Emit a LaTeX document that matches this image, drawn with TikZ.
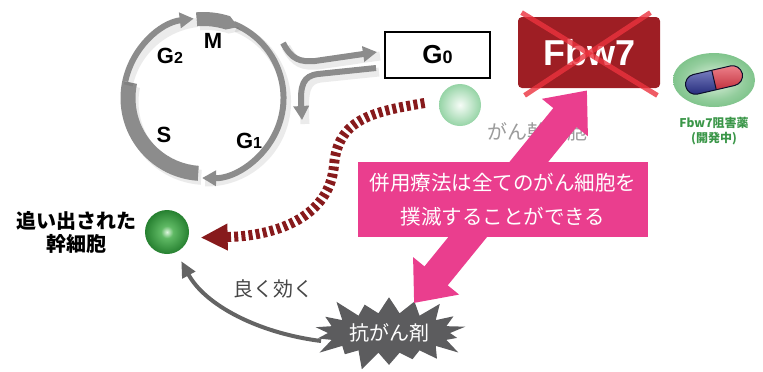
\documentclass[tikz,border=0pt]{standalone}
\usepackage{fontspec}
\setmainfont{Liberation Sans}
\newfontfamily\jpfont{Noto Sans CJK JP}
\usepackage{tikz}
\usetikzlibrary{arrows.meta,positioning,shapes.geometric,shapes.symbols}

\definecolor{cycgray}  {RGB}{140,140,140}
\definecolor{burstgray}{RGB}{ 92, 92, 94}
\definecolor{effgray}  {RGB}{100,100,100}
\definecolor{lblgray}  {RGB}{ 70, 70, 70}
\definecolor{cscgray}  {RGB}{155,155,155}
\definecolor{fbwred}   {RGB}{158, 30, 36}
\definecolor{xred}     {RGB}{235, 50, 62}
\definecolor{hotpink}  {RGB}{234, 62,142}
\definecolor{exitred}  {RGB}{135, 26, 28}
\definecolor{stemhi}   {RGB}{222,246,222}
\definecolor{stemmid}  {RGB}{ 95,185,100}
\definecolor{stemgreen}{RGB}{ 38,128, 48}
\definecolor{cschi}    {RGB}{246,252,247}
\definecolor{cscgreen} {RGB}{150,212,166}
\definecolor{drughi}   {RGB}{226,243,226}
\definecolor{druggreen}{RGB}{128,196,140}
\definecolor{drugtext} {RGB}{ 58,150, 72}
\definecolor{pillblue} {RGB}{ 45, 55,170}
\definecolor{pillred}  {RGB}{228, 35, 52}

\pgfdeclareradialshading{stemshade}{\pgfpoint{0bp}{0bp}}{%
  color(0bp)=(stemhi); color(7bp)=(stemmid); color(25bp)=(stemgreen);
  color(50bp)=(stemgreen)}
\pgfdeclareradialshading{cscshade}{\pgfpoint{0bp}{0bp}}{%
  color(0bp)=(cschi); color(25bp)=(cscgreen); color(50bp)=(cscgreen)}
\pgfdeclareradialshading{drugshade}{\pgfpoint{0bp}{0bp}}{%
  color(0bp)=(drughi); color(18bp)=(druggreen!80!drughi);
  color(25bp)=(druggreen); color(50bp)=(druggreen)}

\newcommand{\ph}[3][8]{#2{\fontsize{#1}{#1}\selectfont#3}}

\tikzset{
  cycshade/.style={preaction={draw=black,opacity=0.08,line width=4.5pt,arrows=-,
                   transform canvas={shift={(1.5pt,-2pt)}}}},
  cyc/.style={draw=cycgray,line width=3pt,cycshade},
  cycarr/.style={cyc,-{Triangle[length=7pt,width=7.5pt]}},
  cycblk/.style={fill=cycgray,preaction={fill=black,opacity=0.08,
                 transform canvas={shift={(1.5pt,-2pt)}}}},
  phase/.style={font=\bfseries\fontsize{11}{11}\selectfont,inner sep=0pt},
  gbox/.style={draw=black,line width=1pt,fill=white,
               minimum width=52.5pt,minimum height=23pt,inner sep=0pt,
               font=\bfseries\fontsize{13}{13}\selectfont},
  fbw/.style={fill=fbwred,rounded corners=2pt,
              minimum width=71pt,minimum height=35.5pt,text=white,
              font=\bfseries\fontsize{18}{18}\selectfont},
  xmark/.style={draw=xred,line width=2.5pt,opacity=0.8},
  cellpale/.style={circle,inner sep=0pt,minimum size=21pt,shade,shading=cscshade},
  cellgreen/.style={circle,inner sep=0pt,minimum size=22pt,shade,shading=stemshade},
  drug/.style={ellipse,inner sep=0pt,minimum width=41pt,minimum height=27pt,
               shade,shading=drugshade},
  pilledge/.style={draw=black!75!pillblue,line width=0.5pt},
  lbl/.style={font=\jpfont\fontsize{10}{11.5}\selectfont,inner sep=0pt,align=center},
  druglbl/.style={font=\bfseries\jpfont\fontsize{6}{7.5}\selectfont,text=drugtext,
                  inner sep=0pt,align=center},
  msg/.style={fill=hotpink,text=white,minimum width=145pt,minimum height=37.5pt,
              align=center,font=\jpfont\fontsize{10.25}{17}\selectfont},
  burst/.style={starburst,starburst points=18,starburst point height=11pt,
                fill=burstgray,text=white,minimum width=83pt,minimum height=42pt,
                inner sep=0pt,font=\jpfont\fontsize{10}{10}\selectfont},
  pinkarr/.style={draw=hotpink,line width=15pt,
                  {Triangle[length=17.5pt,width=28.5pt]}-{Triangle[length=17.5pt,width=28.5pt]}},
  exitarr/.style={draw=exitred,line width=5pt,dash pattern=on 2pt off 1.6pt,
                  -{Triangle[length=13.5pt,width=12.5pt]}},
  effarr/.style={draw=effgray,line width=2pt,-{Triangle[length=8pt,width=7pt]}},
}

\begin{document}
\begin{tikzpicture}[x=0.5pt,y=-0.5pt]
  \useasboundingbox (0,0) rectangle (763,371);

  \begin{scope}[shift={(203.5,98)},y=0.5pt]
    \fill[cycblk] (168:68) arc[start angle=168,end angle=266,radius=68]
      -- (266:83) arc[start angle=266,end angle=168,radius=83] -- cycle;
    \draw[cycarr] (168:80) arc[start angle=168,end angle=97,radius=80];
    \draw[cycarr] (68:80) arc[start angle=68,end angle=-91,radius=80];
    \fill[cycblk] (95:72) -- (95:86) arc[start angle=95,end angle=72,radius=86]
      -- (64:79) -- (72:72) arc[start angle=72,end angle=95,radius=72] -- cycle;
  \end{scope}

  \node[phase] (G2) at (170,56)  {\ph{G}{2}};
  \node[phase] (M)  at (213,41)  {M};
  \node[phase] (S)  at (164,135) {S};
  \node[phase] (G1) at (249,141) {\ph{G}{1}};

  \node[gbox] (G0) at (437.5,55) {\ph[9]{G}{0}};
  \coordinate (exitM)   at (283,43);
  \coordinate (reentry) at (302,120);
  \draw[cycarr] (exitM) .. controls (292,60) and (300,62) .. (315,61)
    -- ([shift={(-7,-3)}]G0.west);
  \draw[cycarr] ([shift={(-8,13)}]G0.west) -- (318,74)
    .. controls (303,76) and (300,85) .. (reentry);

  \node[fbw] (FBW) at (589,52.5) {Fbw7};
  \draw[xmark] ([shift={(4,-4)}]FBW.north west) -- ([shift={(-3,7)}]FBW.south east);
  \draw[xmark] ([shift={(-10,-4)}]FBW.north east) -- ([shift={(7,7)}]FBW.south west);

  \node[cellpale] (CSC) at (460,105) {};
  \node[lbl,text=cscgray,below right=1pt and 6pt of CSC] (CSCL) {がん幹細胞};

  \node[drug] (DRUG) at (714,80) {};
  \begin{scope}[shift={(DRUG.center)},rotate=13]
    \begin{scope}
      \clip (-31,-13) rectangle (0,13);
      \shade[top color=pillblue!55!white,bottom color=pillblue!70!black,
             rounded corners=5pt] (-29,-10) rectangle (29,10);
    \end{scope}
    \begin{scope}
      \clip (0,-13) rectangle (31,13);
      \shade[top color=pillred!55!white,bottom color=pillred!80!black,
             rounded corners=5pt] (-29,-10) rectangle (29,10);
    \end{scope}
    \draw[pilledge,rounded corners=5pt] (-29,-10) rectangle (29,10);
    \draw[pilledge] (0,-10) -- (0,10);
  \end{scope}
  \node[druglbl,below=4.5pt of DRUG] (DRUGL) {Fbw7阻害薬\\(開発中)};

  \node[cellgreen] (STEM) at (167,232) {};
  \node[lbl,font=\bfseries\jpfont\fontsize{10}{11.5}\selectfont,left=4pt of STEM]
    (STEML) {追い出された\\幹細胞};

  \draw[exitarr,shorten >=6pt] ([shift={(-14,-2)}]CSC.west)
    .. controls (370,112) and (338,120) .. (334,165)
    .. controls (330,215) and (280,236) .. (STEM.-15);

  \node[burst] (KOU) at (389,333) {抗がん剤};
  \draw[effarr,shorten >=5pt] ([shift={(-6,8)}]KOU.west)
    .. controls (258,333) and (205,305) .. (STEM.-65)
    node[lbl,text=lblgray,pos=0.3,above=14pt,xshift=3pt] {良く効く};

  \draw[pinkarr] ([shift={(-2,2)}]FBW.south) -- ([shift={(25,-30)}]KOU.center);
  \node[msg] (MSG) at (503,199.5) {併用療法は全てのがん細胞を\\撲滅することができる};
\end{tikzpicture}
\end{document}
